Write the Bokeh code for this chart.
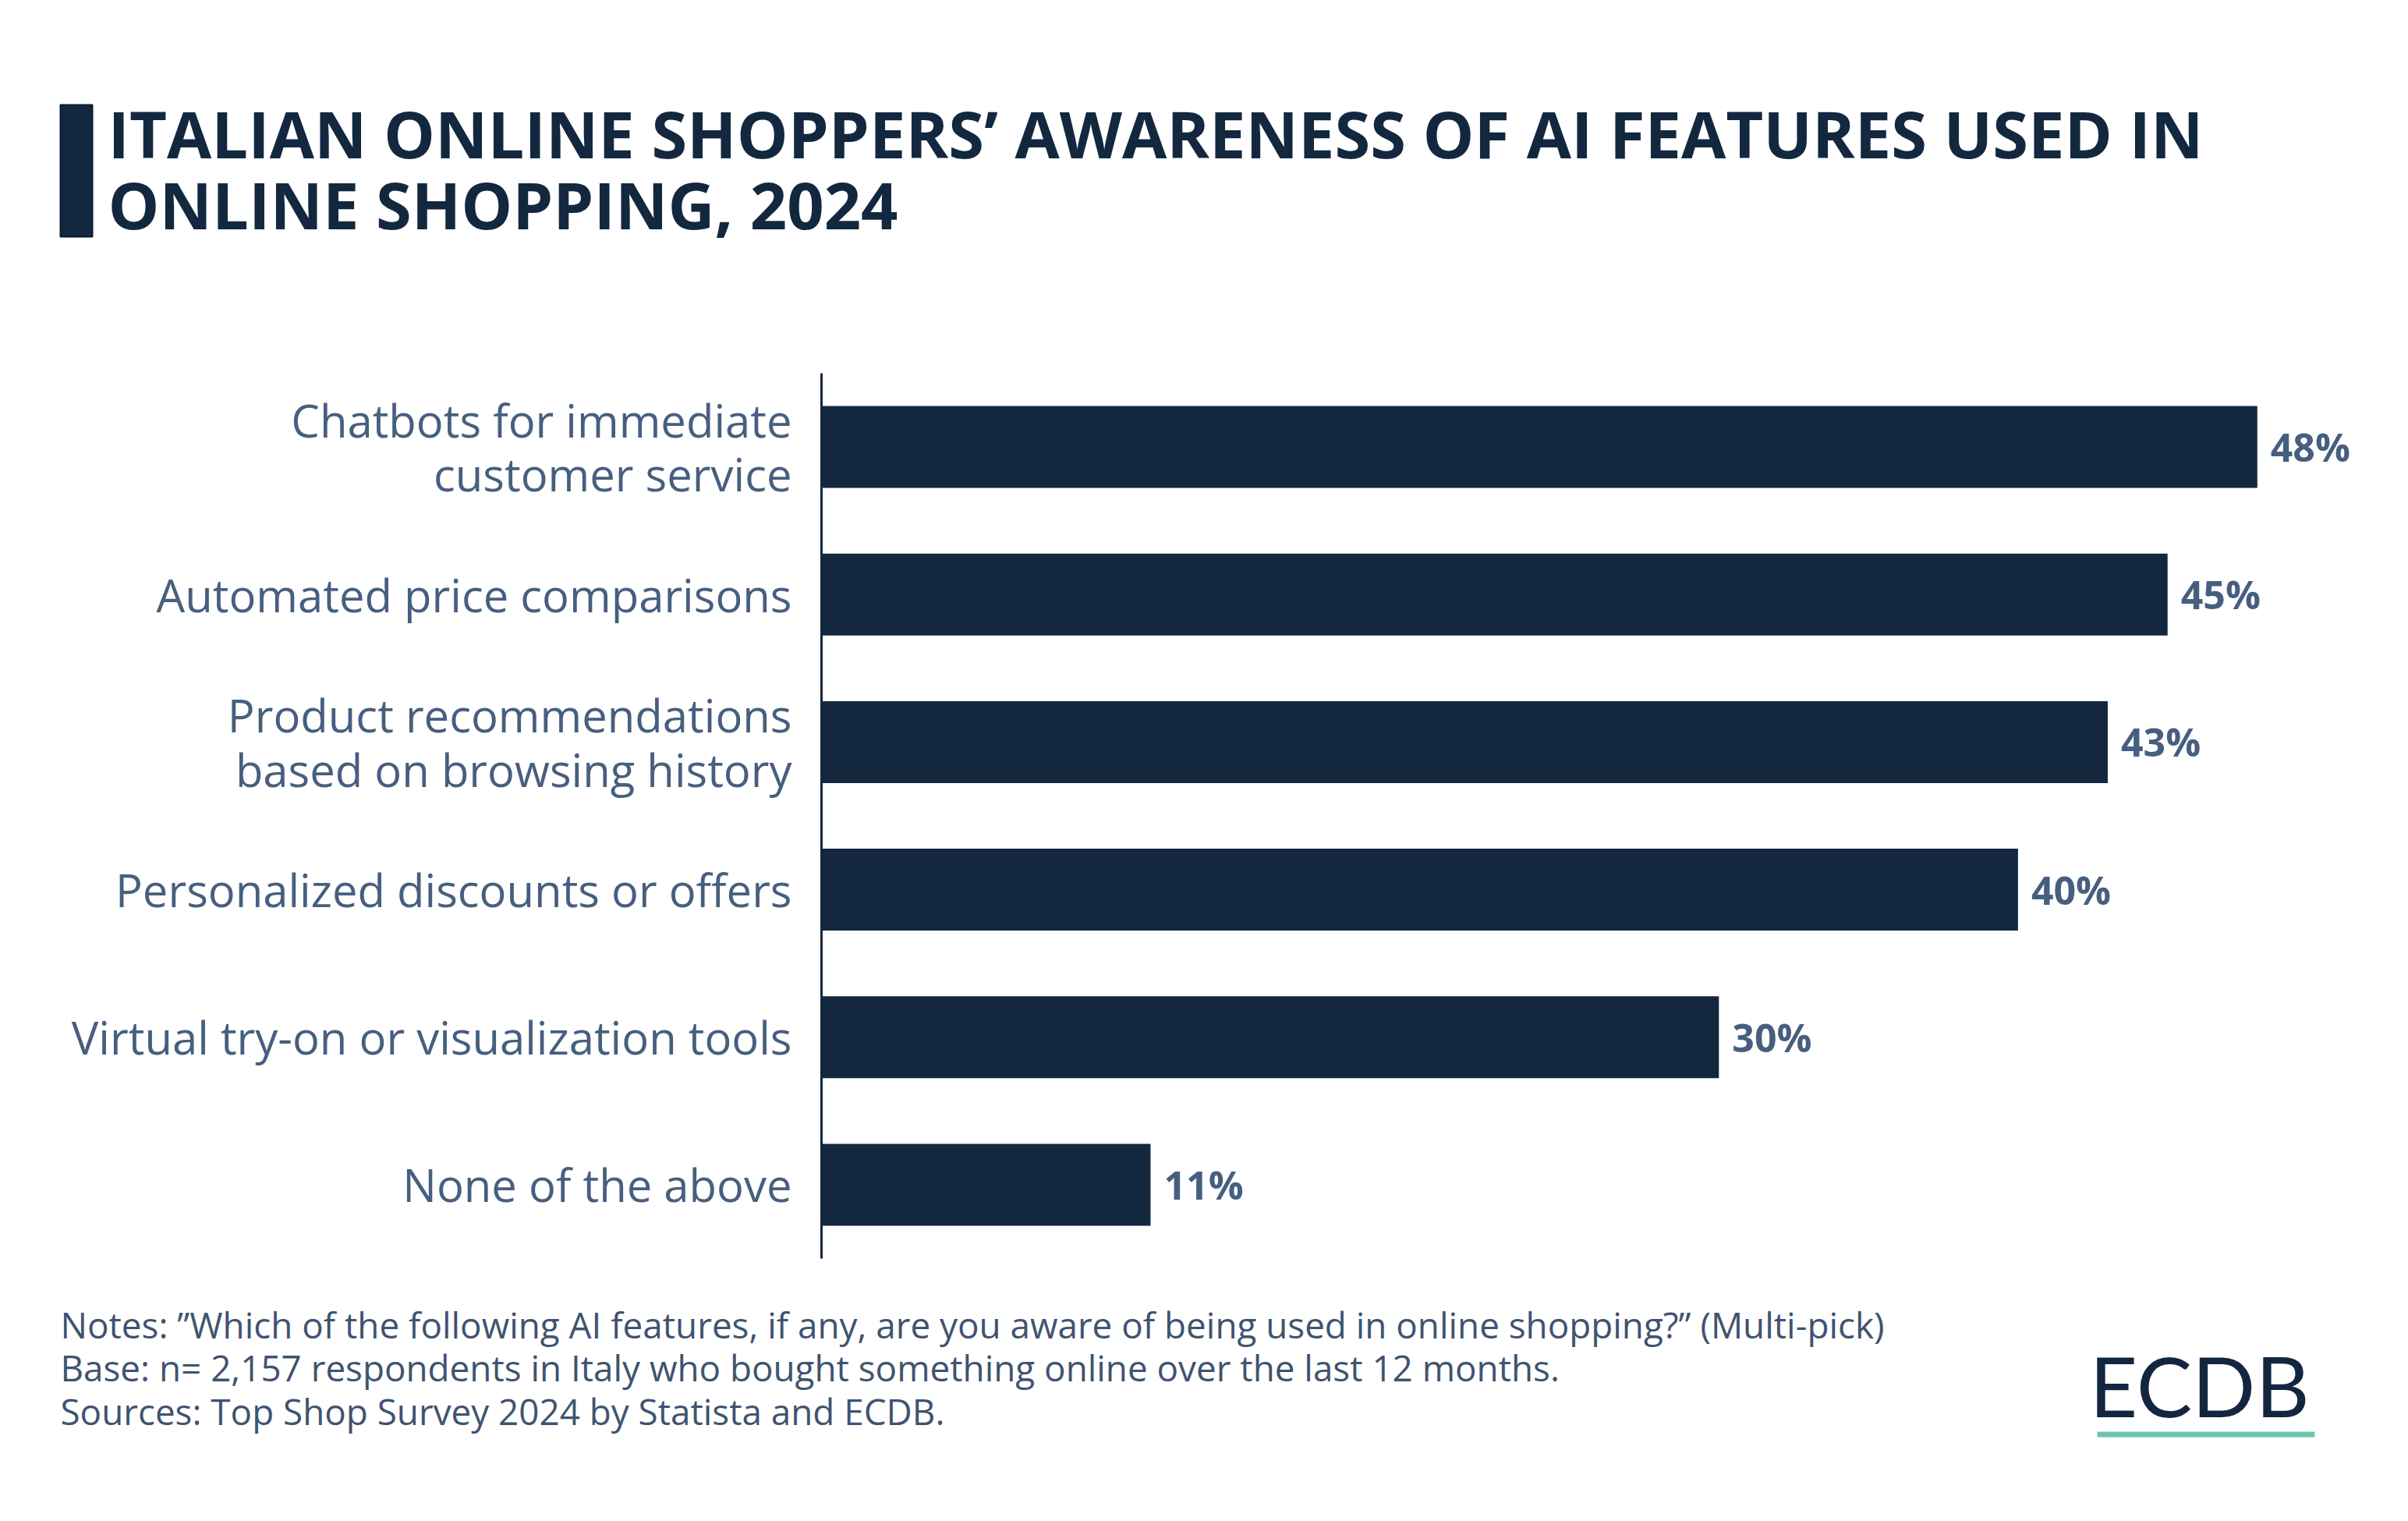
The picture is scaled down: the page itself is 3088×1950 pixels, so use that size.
from bokeh.plotting import figure
from bokeh.models import Range1d, Label, ColumnDataSource
from bokeh.core.properties import value
from bokeh.embed import file_html
from bokeh.resources import INLINE

categories = [
    "Chatbots for immediate\ncustomer service",
    "Automated price comparisons",
    "Product recommendations\nbased on browsing history",
    "Personalized discounts or offers",
    "Virtual try-on or visualization tools",
    "None of the above",
]
values = [48, 45, 43, 40, 30, 11]
value_labels = ["48%", "45%", "43%", "40%", "30%", "11%"]

title_lines = [
    "ITALIAN ONLINE SHOPPERS\u2019 AWARENESS OF AI FEATURES USED IN",
    "ONLINE SHOPPING, 2024",
]
note_lines = [
    "Notes: \u201dWhich of the following AI features, if any, are you aware of being used in online shopping?\u201d (Multi-pick)",
    "Base: n= 2,157 respondents in Italy who bought something online over the last 12 months.",
    "Sources: Top Shop Survey 2024 by Statista and ECDB.",
]

NAVY = "#13283f"
SLATE = "#475f7f"
NOTE = "#3f5370"
FONT = "Open Sans"

# canvas / layout geometry (pixels)
W, H = 3080, 1942
X0 = 1053          # pixel where 0 % lies
PX_PER_PCT = 38.36
Y_TOP = 478        # top of category band area
BAND = 189.17      # height of one category band

n = len(categories)
idx = list(range(n))

p = figure(
    width=W, height=H,
    x_range=Range1d(-X0 / PX_PER_PCT, (W - X0) / PX_PER_PCT),
    y_range=Range1d((H - Y_TOP) / BAND - 0.5, -Y_TOP / BAND - 0.5),
    output_backend="svg", toolbar_location=None,
    min_border=0, min_border_left=0, min_border_right=0,
    min_border_top=0, min_border_bottom=0,
)
p.extra_x_ranges = {"px": Range1d(0, W)}
p.extra_y_ranges = {"px": Range1d(H, 0)}
p.axis.visible = False
p.grid.visible = False
p.outline_line_color = None
p.background_fill_color = "white"
p.border_fill_color = "white"

src = ColumnDataSource(dict(y=idx, cat=categories, val=values, lab=value_labels,
                            zero=[0] * n))

# bars
p.hbar(y="y", right="val", left="zero", height=0.555, source=src,
       fill_color=NAVY, line_color=None)

# value labels
p.text(x="val", y="y", text="lab", source=src, x_offset=17,
       text_baseline="middle", text_align="left",
       text_font=value(FONT), text_font_style="bold",
       text_font_size="50px", text_color=SLATE)

# category labels (y axis labels)
p.text(x="zero", y="y", text="cat", source=src, x_offset=-38,
       text_baseline="middle", text_align="right",
       text_font=value(FONT), text_font_size="58px",
       text_color=SLATE, text_line_height=0.88)

# y axis line
p.segment(x0=[0], y0=[-0.5], x1=[0], y1=[n - 0.5],
          line_color=NAVY, line_width=3)

# title bar + title
p.quad(left=[77], right=[118], top=[134], bottom=[303],
       x_range_name="px", y_range_name="px",
       fill_color=NAVY, line_color="#0b1a2c", line_width=2)
for t, y in zip(title_lines, [170, 261]):
    p.add_layout(Label(x=138, y=y, x_range_name="px", y_range_name="px",
                       text=t, text_font=FONT, text_font_style="bold",
                       text_font_size="83px", text_color=NAVY,
                       text_baseline="alphabetic", text_align="left"))

# notes
for t, y in zip(note_lines, [1697, 1752, 1808]):
    p.add_layout(Label(x=77, y=y, x_range_name="px", y_range_name="px",
                       text=t, text_font=FONT, text_font_size="45.8px",
                       text_color=NOTE, text_baseline="alphabetic",
                       text_align="left"))

# logo
p.add_layout(Label(x=2679, y=1775, x_range_name="px", y_range_name="px",
                   text="ECDB", text_font="Lato", text_font_size="107px",
                   text_color="#13263f", text_baseline="alphabetic",
                   text_align="left"))
p.quad(left=[2689], right=[2968], top=[1835], bottom=[1842],
       x_range_name="px", y_range_name="px",
       fill_color="#6cc4b0", line_color=None)

open("out.html", "w").write(file_html(p, INLINE))
